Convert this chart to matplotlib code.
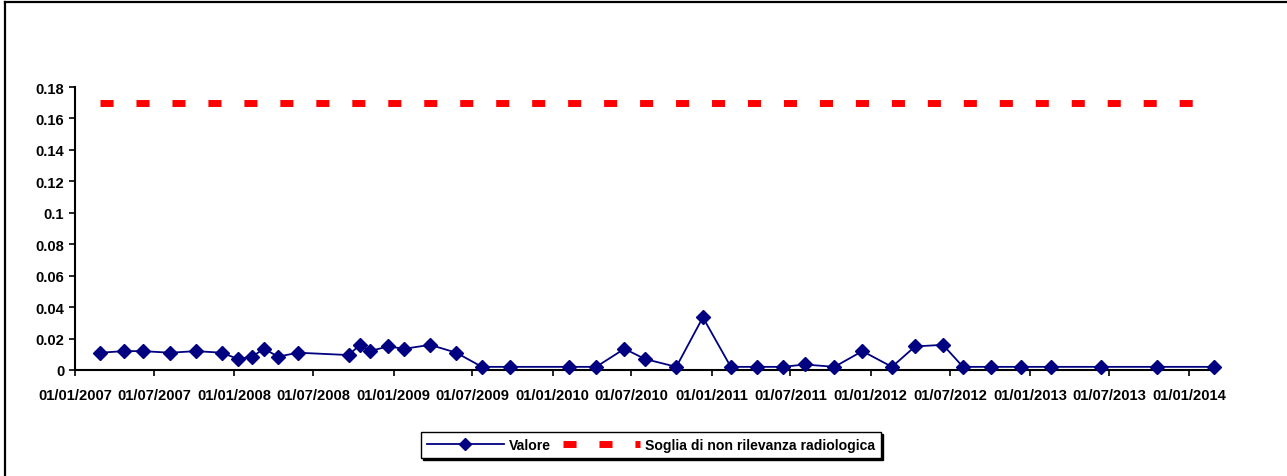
import matplotlib
matplotlib.use("Agg")
import matplotlib.pyplot as plt
import matplotlib.dates as mdates
from matplotlib.lines import Line2D
from matplotlib.ticker import FuncFormatter
import pandas as pd

# ---- data ----
dates = [
    "2007-02-27", "2007-04-24", "2007-06-05", "2007-08-08", "2007-10-05", "2007-12-04",
    "2008-01-10", "2008-02-11", "2008-03-10", "2008-04-11", "2008-05-27", "2008-09-20",
    "2008-10-16", "2008-11-08", "2008-12-19", "2009-01-26", "2009-03-26", "2009-05-25",
    "2009-07-23", "2009-09-26", "2010-02-07", "2010-04-11", "2010-06-15", "2010-08-01",
    "2010-10-12", "2010-12-12", "2011-02-14", "2011-04-15", "2011-06-13", "2011-08-03",
    "2011-10-10", "2011-12-13", "2012-02-19", "2012-04-12", "2012-06-15", "2012-07-31",
    "2012-10-04", "2012-12-12", "2013-02-17", "2013-06-13", "2013-10-20", "2014-02-27",
]
valore = [
    0.011, 0.012, 0.012, 0.011, 0.012, 0.011,
    0.007, 0.0085, 0.0135, 0.0085, 0.011, 0.0095,
    0.016, 0.012, 0.015, 0.0135, 0.016, 0.011,
    0.002, 0.002, 0.002, 0.002, 0.0135, 0.007,
    0.002, 0.0335, 0.002, 0.002, 0.002, 0.0035,
    0.002, 0.012, 0.002, 0.015, 0.016, 0.002,
    0.002, 0.002, 0.002, 0.002, 0.002, 0.002,
]
soglia = [0.17] * len(dates)
tick_dates = ["2007-01-01", "2007-07-01", "2008-01-01", "2008-07-01", "2009-01-01",
              "2009-07-01", "2010-01-01", "2010-07-01", "2011-01-01", "2011-07-01",
              "2012-01-01", "2012-07-01", "2013-01-01", "2013-07-01", "2014-01-01"]
y_ticks = [0, 0.02, 0.04, 0.06, 0.08, 0.1, 0.12, 0.14, 0.16, 0.18]
label_valore = "Valore"
label_soglia = "Soglia di non rilevanza radiologica"

plt.rcParams["lines.scale_dashes"] = False
FONT = {"family": "Liberation Sans", "weight": "bold", "size": 10.6}
LEG_FONT = {"family": "Liberation Sans", "weight": "bold", "size": 10.1}

W, H = 1287, 477
fig = plt.figure(figsize=(W / 100, H / 100), dpi=100)
fig.patch.set_facecolor("white")
ax = fig.add_axes([75 / W, (H - 371) / H, (1214 - 75) / W, (371 - 88) / H])

x = pd.to_datetime(dates)
ax.plot(x, soglia, color="#FF0000", lw=5, dashes=(9.4, 16.5), solid_capstyle="butt",
        dash_capstyle="butt", label=label_soglia, zorder=2)
ax.plot(x, valore, color="#000080", lw=1.3, marker="D", markersize=7.6,
        markerfacecolor="#000080", markeredgecolor="#000080", label=label_valore,
        zorder=3, clip_on=False)

ax.set_xlim(pd.Timestamp("2007-01-01"), pd.Timestamp(dates[-1]))
ax.set_ylim(0, 0.18)
ax.set_xticks(pd.to_datetime(tick_dates))
ax.xaxis.set_major_formatter(mdates.DateFormatter("%d/%m/%Y"))
ax.set_yticks(y_ticks)
ax.yaxis.set_major_formatter(FuncFormatter(lambda v, p: "%g" % round(v, 2)))

for s in ["top", "right"]:
    ax.spines[s].set_visible(False)
for s in ["left", "bottom"]:
    ax.spines[s].set_linewidth(1.5)
    ax.spines[s].set_color("black")
ax.tick_params(axis="both", direction="out", length=4.3, width=1.2, color="black")
ax.tick_params(axis="x", pad=8.5)
ax.tick_params(axis="y", pad=3.5)
for lab in ax.get_xticklabels() + ax.get_yticklabels():
    lab.set_fontfamily(FONT["family"])
    lab.set_fontweight("bold")
    lab.set_fontsize(FONT["size"])

handles, labels = ax.get_legend_handles_labels()
order = [1, 0]
leg = ax.legend([handles[i] for i in order], [labels[i] for i in order],
                loc="center", bbox_to_anchor=(651 / W, 1 - 446 / H),
                bbox_transform=fig.transFigure, ncol=2, prop=LEG_FONT,
                handlelength=5.5, handletextpad=0.35, columnspacing=0.9,
                borderpad=0.4, fancybox=False, edgecolor="black", framealpha=1,
                shadow={"ox": 1.5, "oy": -1.5, "color": "black", "alpha": 1})
leg.get_frame().set_linewidth(1.0)
leg.legend_handles[0].set_markersize(6)

# outer chart border (left and top)
fig.add_artist(Line2D([5 / W, 5 / W], [0, 1 - 3 / H], transform=fig.transFigure,
                      color="black", lw=1.6))
fig.add_artist(Line2D([5 / W, 1], [1 - 3 / H, 1 - 3 / H], transform=fig.transFigure,
                      color="black", lw=1.6))

fig.savefig("out.png", dpi=100, facecolor="white")
